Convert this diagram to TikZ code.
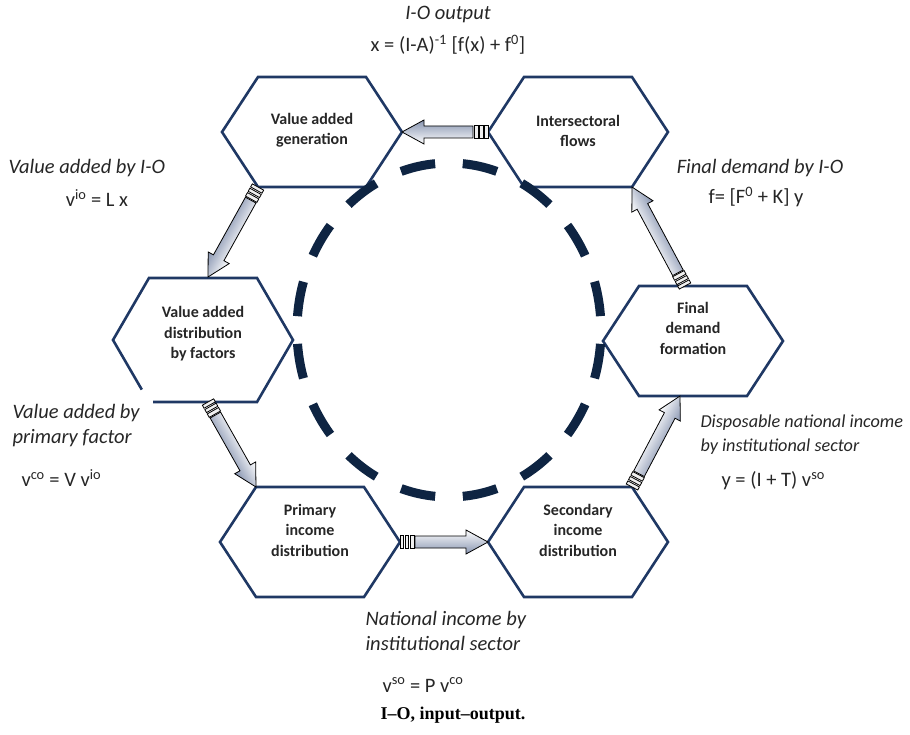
\documentclass[tikz,border=0pt]{standalone}
\usepackage{fontspec}
\setmainfont{Carlito}
\newfontfamily\captionfont{Liberation Serif}
\usetikzlibrary{calc}

\definecolor{hexnavy}{RGB}{31,56,100}
\definecolor{ringnavy}{RGB}{14,36,66}
\definecolor{arrowgrey}{RGB}{135,148,176}

% hexagon cell: name, centre x, centre y, half height, label y, label
\newcommand{\hexcell}[6]{%
  \node[hexlabel] (#1) at (#2,#5) {#6};
  \coordinate (#1-l)  at (#2-90,#3);
  \coordinate (#1-r)  at (#2+90,#3);
  \coordinate (#1-tl) at (#2-54,#3-#4);
  \coordinate (#1-tr) at (#2+54,#3-#4);
  \coordinate (#1-bl) at (#2-54,#3+#4);
  \coordinate (#1-br) at (#2+54,#3+#4);
}

% block arrow with striped tail, from #1 to #2
\newcommand{\flowarrow}[2]{%
  \path let \p1=($(#2)-(#1)$) in
    \pgfextra{\pgfmathsetmacro\arrang{atan2(\y1,\x1)}%
      \pgfmathsetmacro\arrlen{veclen(\x1,\y1)}%
      \xdef\arrang{\arrang}\xdef\arrlen{\arrlen}};
  \begin{scope}[transform canvas={shift={(#1)},rotate=\arrang}]
    \foreach \a/\b in {0/3.5,5/8.5,10/14}
      \draw[arrowline, fill=gray!12] (\a,-6.5) rectangle (\b,6.5);
    \draw[arrowline, arrowfill] (15,-6) -- (\arrlen-22,-6) -- (\arrlen-22,-12)
      -- (\arrlen,0) -- (\arrlen-22,12) -- (\arrlen-22,6) -- (15,6) -- cycle;
  \end{scope}
}

\begin{document}
\begin{tikzpicture}[x=1pt, y=-1pt,
    hexline/.style={draw=hexnavy, line width=2.6pt},
    hexlabel/.style={font=\bfseries\fontsize{16}{20.5}\selectfont, align=center, text=black!85},
    ringline/.style={draw=ringnavy, line width=9pt, dash pattern=on 35pt off 27.67pt, dash phase=48.8pt},
    arrowline/.style={draw=black, line width=0.8pt},
    arrowfill/.style={top color=white, bottom color=arrowgrey},
    note/.style={font=\itshape\fontsize{20.5}{25}\selectfont, text=black!85},
    smallnote/.style={font=\itshape\fontsize{18.2}{24}\selectfont, text=black!85},
    formula/.style={font=\fontsize{20.5}{22}\selectfont, text=black!85}
]
\useasboundingbox (0,0) rectangle (910,735);

% the six hexagon cells
\hexcell{vag}{312}{132}{55}{130}{Value added\\generation}
\hexcell{isf}{578}{132}{55}{131}{Intersectoral\\flows}
\hexcell{vad}{203}{340}{62}{334}{Value added\\distribution\\by factors}
\hexcell{fdf}{693}{341}{55}{328}{Final\\demand\\formation}
\hexcell{pid}{310}{542}{55}{530}{Primary\\income\\distribution}
\hexcell{sid}{578}{542}{55}{530}{Secondary\\income\\distribution}

\foreach \h in {vag,isf,fdf,pid,sid}
  \draw[hexline] (\h-l) -- (\h-tl) -- (\h-tr) -- (\h-r) -- (\h-br) -- (\h-bl) -- cycle;
% this one is left open at the lower left
\draw[hexline] ($(vad-l)!0.8!(vad-bl)$) -- (vad-l) -- (vad-tl) -- (vad-tr)
  -- (vad-r) -- (vad-br) -- ($(vad-bl)+(4,0)$);

% dashed ring in the middle
\draw[ringline] (449,330) ellipse [x radius=152, y radius=167];

% arrow ends on the cells
\coordinate (vad-in)  at (208,277);
\coordinate (vad-out) at (208,402);
\coordinate (fdf-in)  at (680,396);
\coordinate (fdf-out) at (685,286);

% flows round the cycle
\flowarrow{isf-l}{vag-r}
\flowarrow{vag-bl}{vad-in}
\flowarrow{vad-out}{pid-tl}
\flowarrow{pid-r}{sid-l}
\flowarrow{sid-tr}{fdf-in}
\flowarrow{fdf-out}{isf-br}

% labels and equations
\node[note] (ioout) at (448,15) {I-O output};
\node[formula] (xeq) at (448,45) {x = (I-A)\textsuperscript{-1} [f(x) + f\textsuperscript{0}]};

\node[note, anchor=west] (vaio) at (5,168) {Value added by I-O};
\node[formula] (vioeq) at (97,198) {v\textsuperscript{io} = L x};

\node[note] (fdio) at (760,168) {Final demand by I-O};
\node[formula] (feq) at (756,197) {f= [F\textsuperscript{0} + K] y};

\node[note, anchor=west, align=left] (vapf) at (9,426) {Value added by\\primary factor};
\node[formula, anchor=west] (vcoeq) at (18,478) {v\textsuperscript{co} = V v\textsuperscript{io}};

\node[smallnote, anchor=west, align=left] (dni) at (697,435) {Disposable national income\\by institutional sector};
\node[formula, anchor=west] (yeq) at (718,481) {y = (I + T) v\textsuperscript{so}};

\node[note, anchor=west, align=left] (nis) at (362,631) {National income by\\institutional sector};
\node[formula, anchor=west] (vsoeq) at (379,685) {v\textsuperscript{so} = P v\textsuperscript{co}};

\node[font=\captionfont\bfseries\fontsize{18}{20}\selectfont] (cap) at (453,715) {I–O, input–output.};
\end{tikzpicture}
\end{document}
